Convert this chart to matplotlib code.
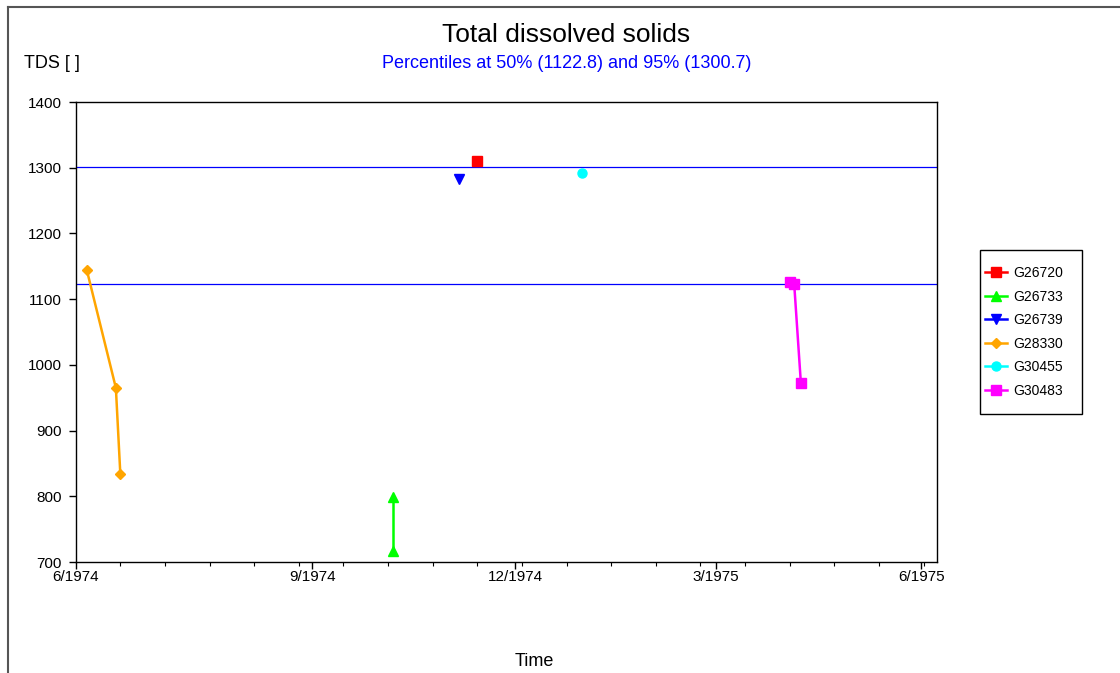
import matplotlib
matplotlib.use("Agg")
import matplotlib.pyplot as plt
from matplotlib.lines import Line2D
from matplotlib.patches import Rectangle
import datetime as dt

plt.rcParams['font.family'] = ['Liberation Sans', 'DejaVu Sans']

# ---- data ----
series_names = ["G26720", "G26733", "G26739", "G28330", "G30455", "G30483"]
series_dates = {
    "G26720": ["1974-11-14"],
    "G26733": ["1974-10-07", "1974-10-07"],
    "G26739": ["1974-11-06"],
    "G28330": ["1974-05-23", "1974-06-05", "1974-06-07"],
    "G30455": ["1974-12-31"],
    "G30483": ["1975-04-03", "1975-04-05", "1975-04-08"],
}
series_values = {
    "G26720": [1310],
    "G26733": [799, 717],
    "G26739": [1283],
    "G28330": [1144, 965, 834],
    "G30455": [1292],
    "G30483": [1126, 1123, 972],
}
series_colors = {
    "G26720": "#FF0000",
    "G26733": "#00FF00",
    "G26739": "#0000FF",
    "G28330": "#FFA500",
    "G30455": "#00FFFF",
    "G30483": "#FF00FF",
}
series_markers = {
    "G26720": "s",
    "G26733": "^",
    "G26739": "v",
    "G28330": "D",
    "G30455": "o",
    "G30483": "s",
}
percentile_50 = 1122.8
percentile_95 = 1300.7

x_min = "1974-05-18"
x_max = "1975-06-08"
major_tick_dates = ["1974-05-18", "1974-09-01", "1974-12-01", "1975-03-01", "1975-06-01"]
major_tick_labels = ["6/1974", "9/1974", "12/1974", "3/1975", "6/1975"]
y_ticks = [700, 800, 900, 1000, 1100, 1200, 1300, 1400]


def d(s):
    return dt.datetime.strptime(s, "%Y-%m-%d")


W, H = 1120, 673
fig = plt.figure(figsize=(W / 100, H / 100), dpi=100)
ax = fig.add_axes([75.7 / W, 1 - 562 / H, (937 - 75.7) / W, (562 - 102) / H])

for name in series_names:
    xs = [d(s) for s in series_dates[name]]
    ms = 5 if series_markers[name] == "D" else 6.5
    ax.plot(xs, series_values[name], color=series_colors[name],
            marker=series_markers[name], markersize=ms, linewidth=1.8,
            label=name)

ax.axhline(percentile_50, color="#0000FF", linewidth=0.9, zorder=1)
ax.axhline(percentile_95, color="#0000FF", linewidth=0.9, zorder=1)

ax.set_xlim(d(x_min), d(x_max))
ax.set_ylim(700, 1400)
ax.set_yticks(y_ticks)
ax.set_yticklabels([str(v) for v in y_ticks], fontsize=11)

ax.set_xticks([d(s) for s in major_tick_dates])
ax.set_xticklabels(major_tick_labels, fontsize=11)
minor = []
cur = d(x_min)
while cur <= d(x_max):
    minor.append(cur)
    cur += dt.timedelta(days=20)
ax.set_xticks(minor, minor=True)
ax.tick_params(axis="x", which="major", direction="out", length=5, width=1, pad=1)
ax.tick_params(axis="y", which="major", direction="out", length=5, width=1, pad=5)
ax.tick_params(axis="x", which="minor", direction="out", length=3, width=0.8)
for sp in ax.spines.values():
    sp.set_linewidth(1)
    sp.set_color("black")

fig.text(566 / W, 1 - 35 / H, "Total dissolved solids", ha="center", va="center", fontsize=19)
fig.text(567 / W, 1 - 64 / H, "Percentiles at 50% (1122.8) and 95% (1300.7)",
         ha="center", va="center", fontsize=13, color="#0000FF")
fig.text(24 / W, 1 - 64 / H, "TDS [ ]", ha="left", va="center", fontsize=13)
fig.text(534 / W, 1 - 662 / H, "Time", ha="center", va="center", fontsize=13)

# legend box
fig.add_artist(Rectangle((980 / W, 1 - 414 / H), (1082 - 980) / W, (414 - 250) / H,
                         transform=fig.transFigure, facecolor="white",
                         edgecolor="black", linewidth=1))
leg = fig.legend(loc="upper left", bbox_to_anchor=(985 / W, 1 - 266 / H),
                 fontsize=10, frameon=False,
                 handlelength=1.6, handletextpad=0.45, labelspacing=0.69,
                 borderpad=0, borderaxespad=0)
leg.set_zorder(5)

# outer figure frame
fig.add_artist(Line2D([8 / W, 8 / W], [0, 1 - 7 / H], transform=fig.transFigure,
                      color="#555555", linewidth=1.5))
fig.add_artist(Line2D([8 / W, 1], [1 - 7 / H, 1 - 7 / H], transform=fig.transFigure,
                      color="#555555", linewidth=1.5))

fig.savefig("out.png", dpi=100)
